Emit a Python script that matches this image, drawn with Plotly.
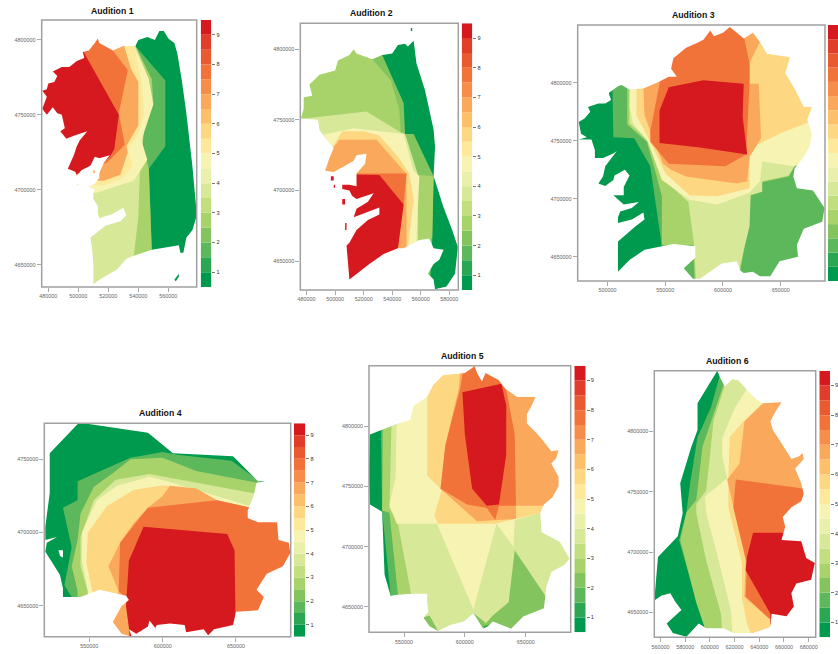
import plotly.graph_objects as go

W, H = 838, 654

# 18 class colours for the 0.5-9.5 scale, lowest first
PALETTE = ["#009A4E", "#2BA652", "#5DB75B", "#84C45F", "#A8D36B", "#C2DF80", "#D8E899", "#EAF0AC",
           "#F6F3B3", "#FEE89A", "#FDD782", "#FCC06B", "#FAA85C", "#F68D4A", "#F1733A", "#EA5A30",
           "#E03E2A", "#D6191F"]
LEVEL_STEP = 0.5
LEVEL_START = 0.5
SCALE_TICKS = [1, 2, 3, 4, 5, 6, 7, 8, 9]

TITLES = ["Audition 1", "Audition 2", "Audition 3", "Audition 4", "Audition 5", "Audition 6"]

# Outlines and class areas are in kilometres (UTM); a class area is (class index, vertices)
P1_OUTLINE = [(476,4766),(479,4767),(480,4771),(484,4772),(486,4776),(483,4779),(489,4782),(494,4782),(499,4786),(504,4788),(503,4792),(507,4793),(511,4798),(513,4801),(514,4798),(523,4793),(530,4796),(538,4796),(540,4800),(546,4802),(551,4800),(554,4806),(557,4806),(560,4801),(564,4798),(566,4791),(569,4773),(572,4751),(576,4716),(579,4683),(576,4673),(572,4668),(570,4658),(568,4658),(567,4663),(560,4662),(549,4660),(537,4656),(532,4654),(526,4647),(514,4640),(510,4637),(510,4651),(509,4662),(508,4668),(518,4676),(528,4679),(532,4683),(530,4688),(523,4684),(514,4681),(513,4684),(513,4689),(510,4694),(510,4698),(511,4700),(507,4702),(511,4704),(514,4708),(514,4711),(517,4718),(521,4723),(514,4721),(511,4722),(508,4716),(502,4713),(499,4709),(498,4712),(493,4714),(497,4723),(499,4729),(501,4733),(506,4739),(497,4736),(492,4734),(488,4739),(491,4741),(489,4750),(486,4751),(483,4755),(479,4750),(476,4754),(479,4762)]
P1_ISLANDS = [[(567,4644),(567,4642),(565,4639),(564,4640)], [(499,4703),(500,4703),(500,4704),(499,4704)], [(510,4711),(511,4711),(511,4713),(510,4713)]]
P1_BANDS = [
    (0, [(470,4630),(585,4630),(585,4820),(470,4820)]),
    (2, [(537,4820),(538,4796),(558,4773),(558,4729),(547,4714),(549,4659),(549,4630),(470,4630),(470,4820)]),
    (4, [(537,4820),(538,4796),(549,4774),(550,4757),(542,4733),(547,4714),(549,4659),(549,4630),(470,4630),(470,4820)]),
    (6, [(537,4820),(538,4796),(547,4774),(541,4711),(540,4682),(537,4656),(537,4630),(470,4630),(470,4820)]),
    (8, [(470,4820),(536,4820),(537,4796),(547,4774),(550,4757),(542,4733),(546,4720),(537,4706),(512,4698),(470,4700)]),
    (9, [(470,4820),(535,4820),(537,4796),(542,4773),(544,4751),(540,4737),(533,4727),(536,4716),(530,4708),(517,4703),(470,4703)]),
    (12, [(470,4820),(530,4820),(530,4798),(535,4781),(540,4772),(540,4743),(532,4729),(533,4725),(528,4710),(517,4706),(470,4706)]),
    (14, [(470,4820),(513,4820),(523,4793),(533,4780),(527,4751),(531,4730),(519,4718),(470,4706)]),
    (17, [(470,4820),(490,4820),(503,4793),(527,4750),(524,4727),(521,4722),(514,4716),(470,4700)]),
]

P2_OUTLINE = [(476,4751),(478,4758),(478,4766),(484,4767),(482,4775),(486,4779),(489,4782),(500,4785),(502,4792),(510,4796),(513,4800),(515,4797),(526,4793),(533,4796),(540,4797),(544,4803),(549,4804),(551,4802),(555,4806),(557,4790),(563,4771),(569,4743),(570,4731),(569,4710),(576,4688),(582,4672),(586,4660),(584,4641),(578,4632),(570,4630),(569,4637),(565,4641),(569,4648),(573,4651),(576,4658),(569,4659),(566,4666),(559,4665),(548,4659),(544,4659),(534,4655),(524,4648),(515,4641),(510,4637),(508,4661),(510,4663),(515,4672),(523,4679),(531,4683),(531,4688),(513,4681),(515,4687),(523,4692),(527,4698),(515,4694),(512,4696),(510,4700),(505,4701),(505,4704),(510,4704),(515,4703),(515,4712),(521,4719),(522,4726),(515,4725),(513,4721),(506,4717),(499,4713),(493,4714),(496,4723),(499,4730),(493,4737),(489,4743),(488,4750)]
P2_ISLANDS = [[(553,4813),(554,4813),(554,4815),(553,4815)], [(497,4707),(499,4707),(499,4710),(497,4710)], [(499,4702),(500,4702),(500,4704),(499,4704)], [(505,4690),(507,4690),(507,4694),(505,4694)], [(507,4672),(508,4672),(508,4677),(507,4677)]]
P2_BANDS = [
    (0, [(470,4625),(590,4625),(590,4820),(470,4820)]),
    (3, [(470,4820),(533,4820),(533,4796),(548,4762),(549,4740),(555,4740),(569,4710),(568,4665),(566,4625),(470,4625)]),
    (4, [(470,4820),(526,4820),(526,4793),(539,4778),(545,4757),(546,4741),(549,4740),(558,4711),(569,4710),(568,4666),(559,4665),(559,4625),(470,4625)]),
    (6, [(470,4750),(522,4756),(546,4741),(549,4740),(558,4711),(558,4665),(558,4625),(470,4625)]),
    (8, [(470,4735),(489,4739),(513,4744),(548,4740),(555,4714),(559,4710),(557,4666),(557,4625),(470,4625)]),
    (10, [(470,4727),(496,4727),(505,4742),(520,4742),(531,4739),(544,4724),(552,4712),(555,4693),(551,4660),(551,4625),(470,4625)]),
    (12, [(470,4727),(496,4727),(503,4736),(529,4736),(548,4714),(550,4712),(550,4625),(470,4625)]),
    (14, [(470,4712),(550,4712),(548,4690),(544,4659),(544,4625),(470,4625)]),
    (17, [(470,4712),(531,4711),(548,4690),(544,4659),(544,4625),(470,4625)]),
]

P3_OUTLINE = [(475,4766),(480,4769),(485,4775),(483,4779),(492,4782),(498,4782),(503,4785),(501,4791),(509,4797),(512,4798),(519,4794),(531,4795),(545,4801),(553,4805),(560,4805),(555,4812),(557,4821),(568,4830),(577,4834),(583,4837),(589,4845),(592,4840),(600,4843),(606,4848),(612,4843),(618,4838),(626,4843),(632,4835),(638,4825),(658,4822),(654,4808),(662,4795),(670,4779),(677,4779),(673,4768),(677,4756),(675,4745),(670,4736),(662,4726),(661,4719),(664,4709),(678,4707),(688,4692),(686,4680),(670,4674),(664,4660),(665,4650),(649,4646),(641,4633),(632,4633),(626,4637),(618,4636),(615,4638),(612,4646),(599,4644),(580,4631),(574,4631),(566,4640),(576,4649),(576,4659),(557,4661),(548,4659),(532,4656),(519,4647),(509,4637),(509,4663),(516,4669),(524,4676),(532,4682),(531,4688),(521,4682),(509,4679),(509,4684),(511,4689),(521,4692),(527,4697),(514,4695),(509,4699),(505,4703),(514,4703),(514,4710),(517,4716),(519,4720),(515,4725),(506,4720),(505,4716),(498,4711),(492,4713),(496,4719),(498,4728),(502,4733),(508,4741),(505,4739),(496,4735),(489,4735),(489,4742),(486,4751),(475,4751),(482,4753),(477,4756)]
P3_ISLANDS = []
P3_BANDS = [
    (0, [(470,4620),(700,4620),(700,4860),(470,4860)]),
    (2, [(503,4860),(504,4785),(505,4753),(523,4752),(537,4728),(547,4659),(547,4620),(700,4620),(700,4860)]),
    (4, [(517,4860),(517,4764),(534,4749),(541,4725),(547,4702),(547,4660),(574,4660),(576,4620),(611,4620),(615,4638),(622,4676),(623,4705),(633,4714),(657,4719),(662,4728),(700,4756),(700,4860)]),
    (6, [(519,4860),(519,4765),(534,4751),(547,4718),(570,4697),(575,4660),(577,4620),(610,4620),(618,4656),(623,4676),(624,4703),(634,4706),(634,4715),(657,4720),(662,4728),(700,4740),(700,4860)]),
    (8, [(521,4860),(519,4779),(522,4765),(535,4749),(547,4716),(571,4699),(595,4695),(623,4705),(632,4715),(634,4732),(661,4728),(700,4745),(700,4860)]),
    (10, [(525,4860),(525,4772),(537,4749),(550,4722),(571,4703),(595,4702),(623,4709),(623,4733),(623,4743),(649,4756),(700,4776),(700,4860)]),
    (12, [(531,4860),(531,4795),(532,4772),(537,4758),(548,4730),(555,4725),(568,4719),(612,4713),(621,4715),(623,4736),(633,4752),(631,4799),(623,4799),(623,4817),(632,4835),(640,4860)]),
    (14, [(545,4860),(545,4799),(537,4758),(537,4749),(553,4730),(602,4728),(620,4738),(623,4799),(623,4817),(618,4840),(618,4860)]),
    (17, [(553,4796),(583,4802),(618,4799),(617,4771),(621,4738),(608,4740),(580,4744),(545,4748),(545,4776)]),
]

P4_OUTLINE = [(543,4775),(590,4768),(607,4754),(648,4752),(665,4735),(670,4735),(664,4734),(662,4725),(658,4715),(658,4710),(665,4707),(678,4707),(679,4695),(686,4693),(687,4686),(682,4677),(671,4672),(664,4661),(669,4656),(665,4647),(650,4646),(648,4637),(635,4634),(631,4630),(628,4634),(616,4632),(615,4637),(605,4638),(596,4637),(595,4635),(591,4640),(590,4636),(582,4631),(577,4634),(579,4629),(572,4631),(566,4639),(572,4650),(577,4654),(575,4657),(557,4661),(544,4656),(538,4656),(532,4656),(532,4662),(530,4671),(525,4679),(520,4687),(521,4693),(528,4697),(520,4695),(520,4704),(523,4727),(523,4754)]
P4_ISLANDS = []
P4_WATER = [[(529,4688),(532,4688),(532,4683),(530,4684)]]
P4_BANDS = [
    (0, [(510,4620),(695,4620),(695,4780),(510,4780)]),
    (2, [(532,4717),(542,4722),(542,4735),(578,4751),(600,4755),(610,4753),(647,4749),(666,4735),(695,4722),(695,4620),(538,4620),(538,4656),(533,4664),(538,4690)]),
    (4, [(542,4620),(542,4660),(538,4677),(542,4695),(544,4713),(553,4731),(568,4742),(578,4750),(600,4751),(623,4742),(664,4734),(695,4722),(695,4620)]),
    (6, [(549,4620),(549,4660),(544,4677),(544,4697),(553,4722),(568,4736),(591,4740),(623,4734),(661,4727),(695,4715),(695,4620)]),
    (8, [(549,4620),(549,4660),(545,4681),(545,4700),(555,4722),(569,4732),(591,4738),(603,4735),(660,4718),(695,4708),(695,4620)]),
    (10, [(552,4620),(552,4660),(548,4679),(549,4700),(562,4718),(580,4729),(598,4732),(605,4732),(637,4722),(660,4717),(695,4707),(695,4620)]),
    (12, [(565,4620),(565,4645),(570,4660),(563,4677),(571,4693),(580,4706),(590,4717),(600,4725),(605,4732),(623,4730),(637,4722),(660,4717),(695,4700),(695,4620)]),
    (14, [(570,4660),(571,4693),(582,4707),(590,4717),(637,4722),(660,4717),(695,4700),(695,4620),(577,4620),(577,4654)]),
    (17, [(587,4704),(644,4699),(649,4688),(650,4631),(650,4620),(579,4620),(575,4650),(577,4681)]),
]

P5_OUTLINE = [(522,4793),(530,4796),(545,4802),(555,4805),(558,4817),(569,4824),(574,4834),(582,4842),(593,4843),(600,4844),(606,4848),(608,4850),(610,4844),(614,4837),(617,4844),(628,4838),(633,4831),(643,4824),(658,4824),(655,4817),(651,4810),(651,4802),(659,4794),(665,4787),(671,4779),(677,4780),(675,4773),(671,4769),(677,4758),(677,4750),(672,4741),(665,4735),(662,4728),(663,4712),(678,4704),(686,4690),(682,4685),(671,4679),(667,4667),(665,4649),(648,4642),(638,4632),(623,4638),(619,4634),(615,4632),(607,4645),(599,4638),(588,4635),(578,4630),(571,4634),(566,4641),(570,4646),(569,4654),(569,4661),(556,4661),(543,4660),(539,4659),(534,4677),(532,4729),(522,4735),(521,4759)]
P5_ISLANDS = []
P5_BANDS = [
    (0, [(515,4620),(695,4620),(695,4855),(515,4855)]),
    (2, [(531,4855),(531,4796),(532,4730),(539,4659),(539,4620),(695,4620),(695,4855)]),
    (4, [(533,4855),(532,4730),(538,4728),(545,4660),(545,4620),(695,4620),(695,4855)]),
    (6, [(541,4855),(538,4732),(545,4719),(556,4660),(556,4620),(695,4620),(695,4855)]),
    (8, [(545,4855),(543,4757),(538,4735),(544,4719),(577,4719),(607,4648),(626,4719),(640,4700),(641,4722),(662,4728),(695,4740),(695,4855)]),
    (10, [(569,4855),(569,4759),(581,4747),(575,4726),(578,4719),(625,4719),(641,4723),(662,4728),(671,4737),(695,4745),(695,4855)]),
    (12, [(597,4855),(595,4831),(584,4784),(580,4748),(610,4721),(626,4722),(642,4723),(642,4734),(665,4734),(695,4738),(695,4855)]),
    (14, [(600,4855),(596,4830),(589,4804),(584,4784),(580,4748),(602,4735),(618,4732),(625,4722),(628,4734),(642,4734),(641,4793),(634,4830),(628,4855)]),
    (17, [(598,4828),(630,4835),(634,4817),(634,4776),(628,4735),(618,4734),(606,4748),(600,4793)]),
    (3, [(641,4697),(665,4661),(675,4646),(654,4620),(618,4620),(615,4634),(623,4643),(636,4654)]),
    (3, [(597,4636),(607,4645),(617,4637),(610,4620),(597,4620)]),
    (3, [(565,4641),(571,4643),(578,4630),(571,4624),(565,4624)]),
    (1, [(615,4634),(623,4636),(618,4630)]),
]

P6_OUTLINE = [(606,4850),(608,4845),(612,4837),(618,4843),(623,4842),(630,4834),(638,4826),(643,4823),(658,4824),(653,4816),(649,4808),(651,4801),(658,4790),(666,4777),(672,4779),(675,4782),(676,4777),(669,4769),(674,4757),(676,4748),(674,4742),(666,4737),(659,4729),(661,4721),(658,4710),(674,4709),(678,4695),(685,4691),(682,4677),(670,4674),(666,4666),(668,4655),(662,4647),(650,4649),(649,4638),(635,4633),(619,4633),(611,4637),(597,4637),(591,4641),(581,4630),(570,4633),(565,4641),(577,4652),(572,4659),(568,4666),(561,4664),(555,4660),(558,4696),(574,4713),(578,4732),(576,4757),(585,4787),(590,4801),(590,4823)]
P6_ISLANDS = []
P6_BANDS = [
    (0, [(550,4620),(695,4620),(695,4860),(550,4860)]),
    (2, [(608,4846),(601,4820),(590,4795),(584,4757),(581,4733),(575,4710),(588,4663),(596,4637),(596,4620),(695,4620),(695,4860),(610,4860)]),
    (4, [(612,4841),(601,4808),(594,4787),(589,4743),(581,4733),(576,4710),(589,4658),(596,4637),(596,4620),(695,4620),(695,4860),(615,4860)]),
    (6, [(616,4850),(603,4809),(600,4779),(597,4751),(589,4740),(589,4732),(597,4693),(609,4649),(611,4620),(695,4620),(695,4860),(616,4860)]),
    (8, [(630,4835),(620,4819),(610,4794),(610,4779),(614,4761),(596,4746),(597,4732),(605,4702),(617,4652),(619,4620),(695,4620),(695,4860),(630,4860)]),
    (10, [(646,4826),(627,4808),(616,4795),(615,4761),(615,4737),(626,4691),(626,4662),(630,4641),(638,4620),(695,4620),(695,4860),(655,4860)]),
    (12, [(658,4839),(646,4826),(628,4808),(624,4773),(614,4760),(619,4737),(629,4693),(628,4663),(648,4645),(695,4645),(695,4860),(658,4860)]),
    (14, [(621,4760),(676,4753),(695,4750),(695,4645),(648,4645),(629,4663),(630,4691),(619,4737)]),
    (17, [(635,4716),(695,4716),(695,4640),(649,4640),(649,4649),(629,4685),(630,4696)]),
]

X_TICKS = [[480,500,520,540,560], [480,500,520,540,560,580], [500,550,600,650], [550,600,650], [550,600,650], [560,580,600,620,640,660,680]]
Y_TICKS = [[4650,4700,4750,4800], [4650,4700,4750,4800], [4650,4700,4750,4800], [4650,4700,4750], [4650,4700,4750,4800], [4650,4700,4750,4800]]
X_RANGES = [(475.6,578.9), (475.6,586.3), (474.1,688.4), (519.3,687.3), (521.2,687.0), (555.0,685.7)]
Y_RANGES = [(4635.1,4813.3), (4629.5,4818.4), (4629.0,4849.7), (4629.0,4774.5), (4629.0,4850.0), (4629.5,4850.0)]

# Panel frame, scale strip and title placement on the page
FRAMES = [(41.7,196.7,20,287), (300.3,458.3,23.3,290), (577.7,825,25,281), (44.3,290.7,423.3,636.7), (369,570.7,365.7,632.3), (654.3,815.7,370.7,637.3)]
STRIPS = [(200.7,211.3), (461.7,472.3), (828,838), (294,305.3), (574.3,585.7), (819.3,830)]
STRIP_LABELLED = [True, True, False, True, True, True]  # panel 3's strip runs off the page edge
TITLE_CENTRES = [(112,10.7), (371.7,13.3), (693.5,15), (160,412.7), (462,355.7), (727.3,360.7)]

PANELS = [(P1_BANDS,P1_OUTLINE,P1_ISLANDS,[]), (P2_BANDS,P2_OUTLINE,P2_ISLANDS,[]), (P3_BANDS,P3_OUTLINE,P3_ISLANDS,[]),
          (P4_BANDS,P4_OUTLINE,P4_ISLANDS,P4_WATER), (P5_BANDS,P5_OUTLINE,P5_ISLANDS,[]), (P6_BANDS,P6_OUTLINE,P6_ISLANDS,[])]

TICK_FONT = dict(family="Liberation Sans, Arial, sans-serif", size=5.4, color="#666666")
FRAME_COLOUR = "#A0A0A0"


def area(pts):
    return sum(a[0]*b[1]-b[0]*a[1] for a, b in zip(pts, pts[1:]+pts[:1])) / 2


def oriented(pts, positive):
    return pts if (area(pts) > 0) == positive else pts[::-1]


def poly_trace(pts, colour, xa, ya):
    return go.Scatter(x=[p[0]*1000 for p in pts]+[pts[0][0]*1000], y=[p[1]*1000 for p in pts]+[pts[0][1]*1000],
                      mode="lines", line=dict(width=0), fill="toself", fillcolor=colour,
                      hoverinfo="skip", showlegend=False, xaxis=xa, yaxis=ya)


fig = go.Figure()
layout = {}
annotations = []
frames = []
for i, (bands, outline, islands, water) in enumerate(PANELS):
    n = 2*i + 1
    xa, ya = f"x{n}", f"y{n}"
    xk, yk = f"xaxis{n}", f"yaxis{n}"
    x0, x1, y0, y1 = FRAMES[i]
    layout[xk] = dict(domain=[x0/W, x1/W], range=[v*1000 for v in X_RANGES[i]], anchor=ya, tickvals=[v*1000 for v in X_TICKS[i]],
                      ticktext=[str(v*1000) for v in X_TICKS[i]], ticks="outside", ticklen=4, tickwidth=1, tickcolor="#AAAAAA",
                      tickfont=TICK_FONT, tickangle=0, showgrid=False, zeroline=False, showline=False, automargin=False)
    layout[yk] = dict(domain=[1-y1/H, 1-y0/H], range=[v*1000 for v in Y_RANGES[i]], anchor=xa, tickvals=[v*1000 for v in Y_TICKS[i]],
                      ticktext=[str(v*1000) for v in Y_TICKS[i]], ticks="outside", ticklen=4, tickwidth=1, tickcolor="#AAAAAA",
                      tickfont=TICK_FONT, showgrid=False, zeroline=False, showline=False, automargin=False)
    for level, pts in bands:
        fig.add_trace(poly_trace(pts, PALETTE[level], xa, ya))
    # white sheet with the land cut out, so class areas stop at the coast
    outer = oriented([(300,4400),(900,4400),(900,5000),(300,5000)], True)
    mx, my = [], []
    for ring in [outer, oriented(outline, False)] + [oriented(s, False) for s in islands]:
        mx += [p[0]*1000 for p in ring] + [ring[0][0]*1000, None]
        my += [p[1]*1000 for p in ring] + [ring[0][1]*1000, None]
    fig.add_trace(go.Scatter(x=mx[:-1], y=my[:-1], mode="lines", line=dict(width=0), fill="toself", fillcolor="white",
                             hoverinfo="skip", showlegend=False, xaxis=xa, yaxis=ya))
    for pts in water:
        fig.add_trace(poly_trace(pts, "white", xa, ya))
    frames.append(dict(type="rect", xref="paper", yref="paper", x0=x0/W, x1=x1/W, y0=1-y1/H, y1=1-y0/H, layer="above",
                       line=dict(color=FRAME_COLOUR, width=1.5), fillcolor="rgba(0,0,0,0)"))

    # stepped scale strip
    m = 2*i + 2
    sx, sy = f"x{m}", f"y{m}"
    s0, s1 = STRIPS[i]
    layout[f"xaxis{m}"] = dict(domain=[s0/W, s1/W], range=[-0.5, 0.5], anchor=sy, visible=False)
    layout[f"yaxis{m}"] = dict(domain=[1-y1/H, 1-y0/H], range=[LEVEL_START, LEVEL_START+LEVEL_STEP*len(PALETTE)], anchor=sx, side="right",
                               tickvals=SCALE_TICKS, ticks="outside" if STRIP_LABELLED[i] else "", ticklen=3, tickwidth=1, tickcolor="#777777",
                               showticklabels=STRIP_LABELLED[i],
                               tickfont=dict(family="Liberation Sans, Arial, sans-serif", size=5.6, color="#333333"),
                               showgrid=False, zeroline=False, showline=False, automargin=False)
    fig.add_trace(go.Bar(x=[0]*len(PALETTE), y=[LEVEL_STEP]*len(PALETTE), base=[LEVEL_START+LEVEL_STEP*k for k in range(len(PALETTE))],
                         width=1, marker=dict(color=PALETTE, line=dict(width=0)), hoverinfo="skip", showlegend=False,
                         xaxis=sx, yaxis=sy))
    cx, cy = TITLE_CENTRES[i]
    annotations.append(dict(text=f"<b>{TITLES[i]}</b>", x=cx/W, y=1-cy/H, xref="paper", yref="paper", showarrow=False,
                            xanchor="center", yanchor="middle", font=dict(family="Liberation Sans, Arial, sans-serif", size=8.7, color="#111111")))

fig.update_layout(width=W, height=H, autosize=False, margin=dict(l=0, r=0, t=0, b=0, pad=0, autoexpand=False), paper_bgcolor="white", plot_bgcolor="white",
                  barmode="overlay", annotations=annotations, shapes=frames, **layout)
fig.write_html("out.html", config={"displayModeBar": False},
               post_script="document.body.style.margin='0';")
